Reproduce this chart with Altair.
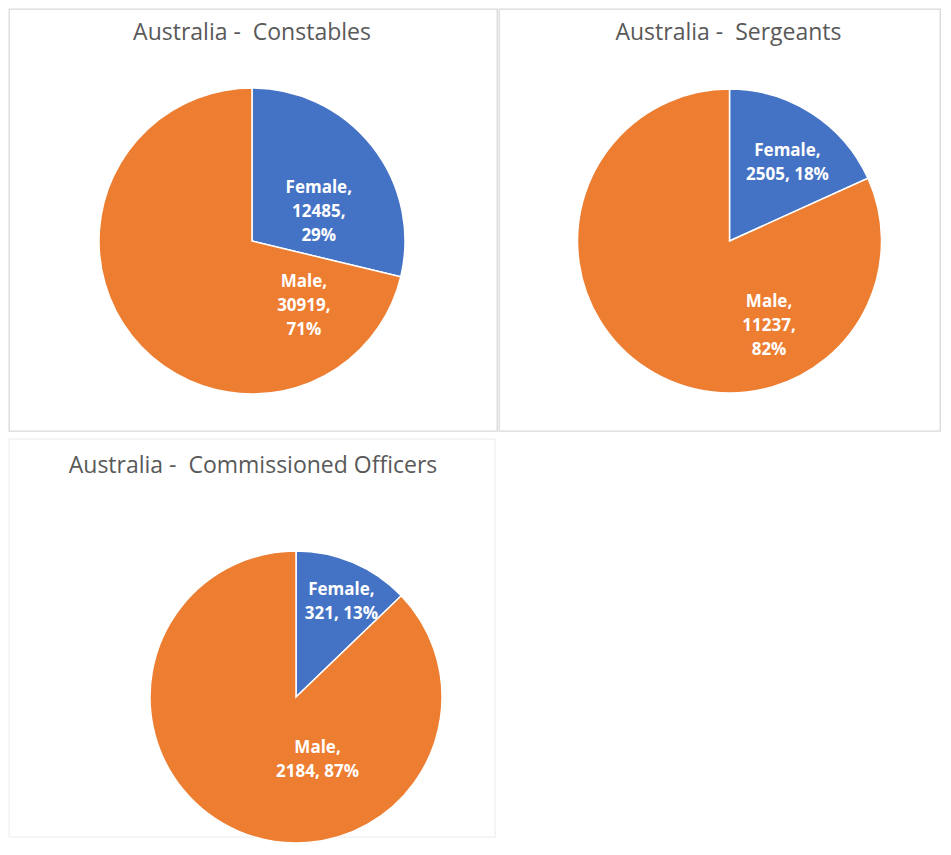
import altair as alt
import pandas as pd

# ---- data ----
panel_titles = [
    "Australia -\u00a0 Constables",
    "Australia -\u00a0 Sergeants",
    "Australia -\u00a0 Commissioned Officers",
]
categories = ["Female", "Male"]
female_counts = [12485, 2505, 321]
male_counts = [30919, 11237, 2184]
# label wrapping: True -> count and percent on separate lines
split_count_pct = [[True, True], [False, True], [False, False]]

colors = ["#4472C4", "#ED7D31"]

# ---- layout / style per panel ----
style = [
    dict(width=488, height=422, radius=153, xoff=-1, yoff=21,
         tx=243, ty=30.5, label_r=[85, 66], stroke="#d9d9d9"),
    dict(width=441, height=422, radius=152, xoff=10, yoff=21,
         tx=229.5, ty=30.5, label_r=[107, 73], stroke="#d9d9d9"),
    dict(width=486, height=398, radius=146, xoff=44, yoff=59,
         tx=244, ty=34, label_r=[116, 55], stroke="#f0f0f0"),
]


def make_panel(i):
    counts = [female_counts[i], male_counts[i]]
    total = sum(counts)
    rows = []
    for j, cat in enumerate(categories):
        pct = round(100 * counts[j] / total)
        sep = ",\n" if split_count_pct[i][j] else ", "
        rows.append(dict(category=cat, count=counts[j],
                         label=f"{cat},\n{counts[j]}{sep}{pct}%", order=j))
    df = pd.DataFrame(rows)
    s = style[i]
    base = alt.Chart(df).encode(
        theta=alt.Theta("count:Q", stack=True),
        order=alt.Order("order:Q"),
    )
    arcs = base.mark_arc(
        radius=s["radius"], stroke="white", strokeWidth=1.5,
        xOffset=s["xoff"], yOffset=s["yoff"],
    ).encode(
        color=alt.Color("category:N",
                        scale=alt.Scale(domain=categories, range=colors),
                        legend=None)
    )
    text = base.transform_calculate(
        r=f"datum.category === 'Female' ? {s['label_r'][0]} : {s['label_r'][1]}"
    ).mark_text(
        font="Open Sans", fontSize=17, fontWeight="bold", color="white",
        lineBreak="\n", lineHeight=24, align="center", baseline="middle",
        xOffset=s["xoff"], yOffset=s["yoff"],
    ).encode(
        radius=alt.Radius("r:Q", scale=None),
        text="label:N",
    )
    title = alt.Chart(pd.DataFrame({"title": [panel_titles[i]]})).mark_text(
        font="Open Sans", fontSize=23, color="#595959",
        align="center", baseline="alphabetic",
    ).encode(
        text="title:N", x=alt.value(s["tx"]), y=alt.value(s["ty"]),
    )
    return alt.layer(arcs, text, title).properties(
        width=s["width"], height=s["height"],
        view=alt.ViewBackground(stroke=s["stroke"], strokeWidth=1.3),
    )


top_row = alt.hconcat(make_panel(0), make_panel(1), spacing=0)
chart = alt.vconcat(top_row, make_panel(2), spacing=6).properties(
    padding=0, background="white"
)

chart.save("out.html", embed_options={"renderer": "svg", "actions": False})
